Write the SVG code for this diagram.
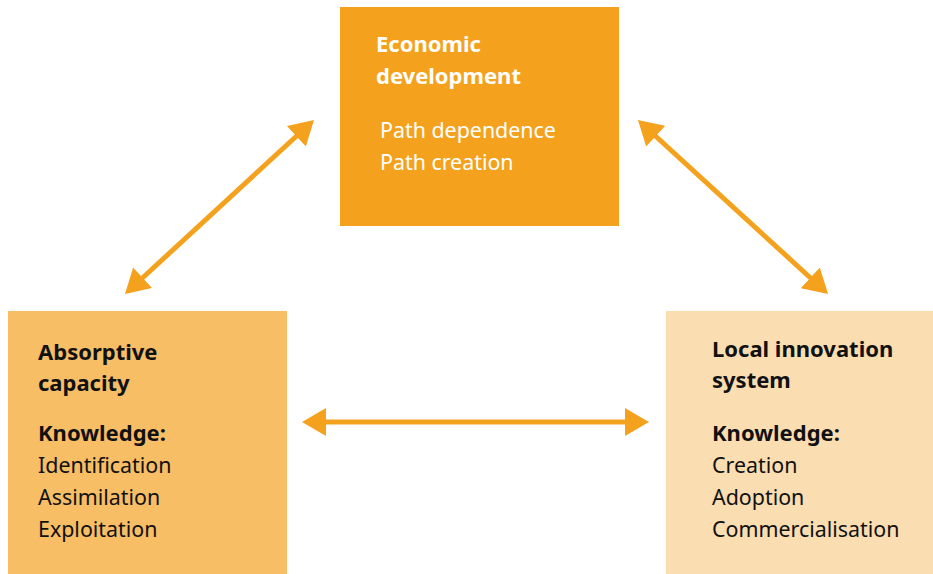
<svg xmlns="http://www.w3.org/2000/svg" width="933" height="574" viewBox="0 0 933 574">
<defs>
<style>
.t{font-family:"Noto Sans","Liberation Sans",sans-serif;font-size:21.4px}
.b{font-weight:bold;font-size:22px}
.w{fill:#ffffff}
.k{fill:#111111}
.c{stroke:#F4A21D;stroke-width:5;fill:none}
</style>
<marker id="ah" markerUnits="userSpaceOnUse" markerWidth="24" markerHeight="28" refX="4" refY="14" orient="auto-start-reverse" viewBox="0 0 24 28">
<path d="M0,0 L24,14 L0,28 z" fill="#F4A21D"/>
</marker>
</defs>
<rect width="933" height="574" fill="#ffffff"/>
<g id="econ">
<rect x="340" y="7" width="279" height="219" fill="#F4A21D"/>
<text class="t b w" x="376" y="52">Economic</text>
<text class="t b w" x="376" y="84">development</text>
<text class="t w" x="380" y="138">Path dependence</text>
<text class="t w" x="380" y="170">Path creation</text>
</g>
<g id="absorptive">
<rect x="8" y="311" width="279" height="263" fill="#F7BE66"/>
<text class="t b k" x="38" y="360">Absorptive</text>
<text class="t b k" x="38" y="391">capacity</text>
<text class="t b k" x="38" y="441">Knowledge:</text>
<text class="t k" x="38" y="473">Identification</text>
<text class="t k" x="38" y="505">Assimilation</text>
<text class="t k" x="38" y="537">Exploitation</text>
</g>
<g id="local">
<rect x="666" y="311" width="267" height="263" fill="#FADDB0"/>
<text class="t b k" x="712" y="357">Local innovation</text>
<text class="t b k" x="712" y="388">system</text>
<text class="t b k" x="712" y="441">Knowledge:</text>
<text class="t k" x="712" y="473">Creation</text>
<text class="t k" x="712" y="505">Adoption</text>
<text class="t k" x="712" y="537">Commercialisation</text>
</g>
<g id="connectors">
<line class="c" x1="139.7" y1="280.5" x2="299.3" y2="133.5" marker-start="url(#ah)" marker-end="url(#ah)"/>
<line class="c" x1="652.7" y1="133.5" x2="813.3" y2="280.5" marker-start="url(#ah)" marker-end="url(#ah)"/>
<line class="c" x1="322" y1="422" x2="629" y2="422" marker-start="url(#ah)" marker-end="url(#ah)"/>
</g>
</svg>
